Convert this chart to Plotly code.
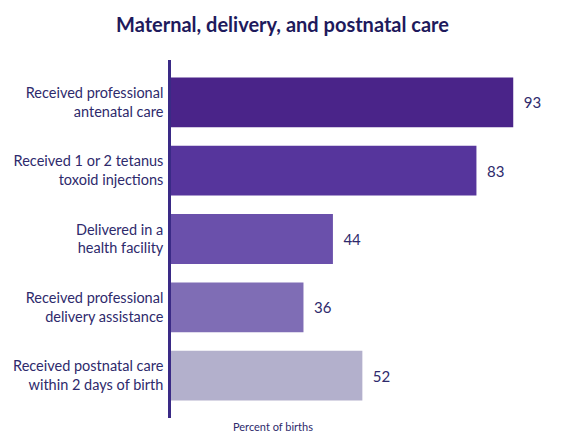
import plotly.graph_objects as go

categories = [
    "Received professional<br>antenatal care",
    "Received 1 or 2 tetanus<br>toxoid injections",
    "Delivered in a<br>health facility",
    "Received professional<br>delivery assistance",
    "Received postnatal care<br>within 2 days of birth",
]
values = [93, 83, 44, 36, 52]
bar_colors = ["#4a2489", "#56359c", "#6a50ab", "#7f6db5", "#b3b0cc"]
axis_title = "Percent of births"
chart_title = "Maternal, delivery, and postnatal care"

text_color = "#2e2a6c"
font_family = "Lato, 'Open Sans', sans-serif"

fig = go.Figure()
fig.add_trace(go.Bar(
    x=values,
    y=categories,
    orientation="h",
    marker=dict(color=bar_colors, line=dict(width=0)),
    width=0.73,
    text=["\u2002" + str(v) for v in values],
    textposition="outside",
    textfont=dict(size=15, color=text_color, family=font_family),
    cliponaxis=False,
    hoverinfo="skip",
))

fig.update_layout(
    width=565,
    height=442,
    margin=dict(l=171, r=26, t=60, b=24),
    paper_bgcolor="white",
    plot_bgcolor="white",
    showlegend=False,
    title=dict(
        text="<b>" + chart_title + "</b>",
        x=0.5,
        xanchor="center",
        y=0.943,
        yanchor="middle",
        font=dict(size=20, color="#1e1a5c", family=font_family),
    ),
    bargap=0.27,
    annotations=[dict(
        text=axis_title,
        xref="paper", yref="paper",
        x=0.277, y=0, yshift=-8,
        xanchor="center", yanchor="middle",
        showarrow=False,
        font=dict(size=11, color=text_color, family=font_family),
    )],
)

fig.update_xaxes(
    range=[0, 100],
    showgrid=False,
    zeroline=False,
    showticklabels=False,
    showline=False,
)
fig.update_yaxes(
    type="category",
    categoryorder="array",
    categoryarray=categories,
    autorange=False,
    range=[4.62, -0.62],
    showgrid=False,
    zeroline=False,
    showline=True,
    linecolor="#3a2a86",
    linewidth=2.5,
    ticks="outside",
    ticklen=2,
    tickcolor="rgba(0,0,0,0)",
    tickfont=dict(size=14.5, color=text_color, family=font_family),
)

fig.write_html("out.html")
